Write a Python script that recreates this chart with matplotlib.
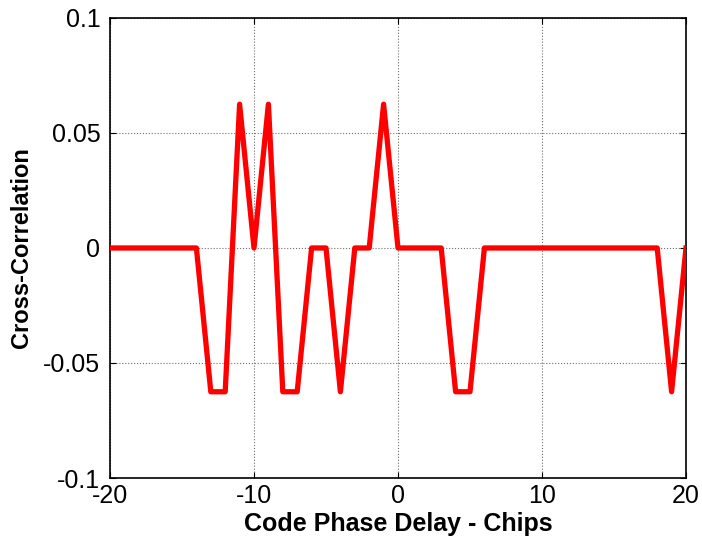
import numpy as np
import matplotlib
matplotlib.use('Agg')
import matplotlib.pyplot as plt

plt.rcParams['font.family'] = ['Liberation Sans', 'DejaVu Sans']

# code phase delay (chips) and cross-correlation values
delay = np.arange(-20, 21)
c = 0.0625
xcorr = [0, 0, 0, 0, 0, 0, 0, -c, -c, c, 0, c, -c, -c, 0, 0, -c, 0, 0, c,
         0, 0, 0, 0, -c, -c, 0, 0, 0, 0, 0, 0, 0, 0, 0, 0, 0, 0, 0, -c, 0]

xticks = [-20, -10, 0, 10, 20]
yticks = [-0.1, -0.05, 0, 0.05, 0.1]
yticklabels = ['-0.1', '-0.05', '0', '0.05', '0.1']

fig = plt.figure(figsize=(7.02, 5.44), dpi=100)
ax = fig.add_axes([0.1567, 0.1213, 0.8205, 0.8457])

ax.plot(delay, xcorr, color='red', linewidth=3.8, zorder=3)

ax.set_xlim(-20, 20)
ax.set_ylim(-0.1, 0.1)
ax.set_xticks(xticks)
ax.set_xticklabels([str(t) for t in xticks])
ax.set_yticks(yticks)
ax.set_yticklabels(yticklabels)
ax.grid(True, color='#707070', linestyle=':', linewidth=0.8)
ax.tick_params(direction='in', top=True, right=True, labelsize=18, length=4)
ax.tick_params(axis='y', pad=7)
ax.tick_params(axis='x', pad=4)
for s in ax.spines.values():
    s.set_linewidth(1.2)

ax.set_xlabel('Code Phase Delay - Chips', fontsize=18, fontweight='bold', labelpad=3)
ax.set_ylabel('Cross-Correlation', fontsize=17, fontweight='bold', labelpad=7)

fig.savefig('out.png', dpi=100)
